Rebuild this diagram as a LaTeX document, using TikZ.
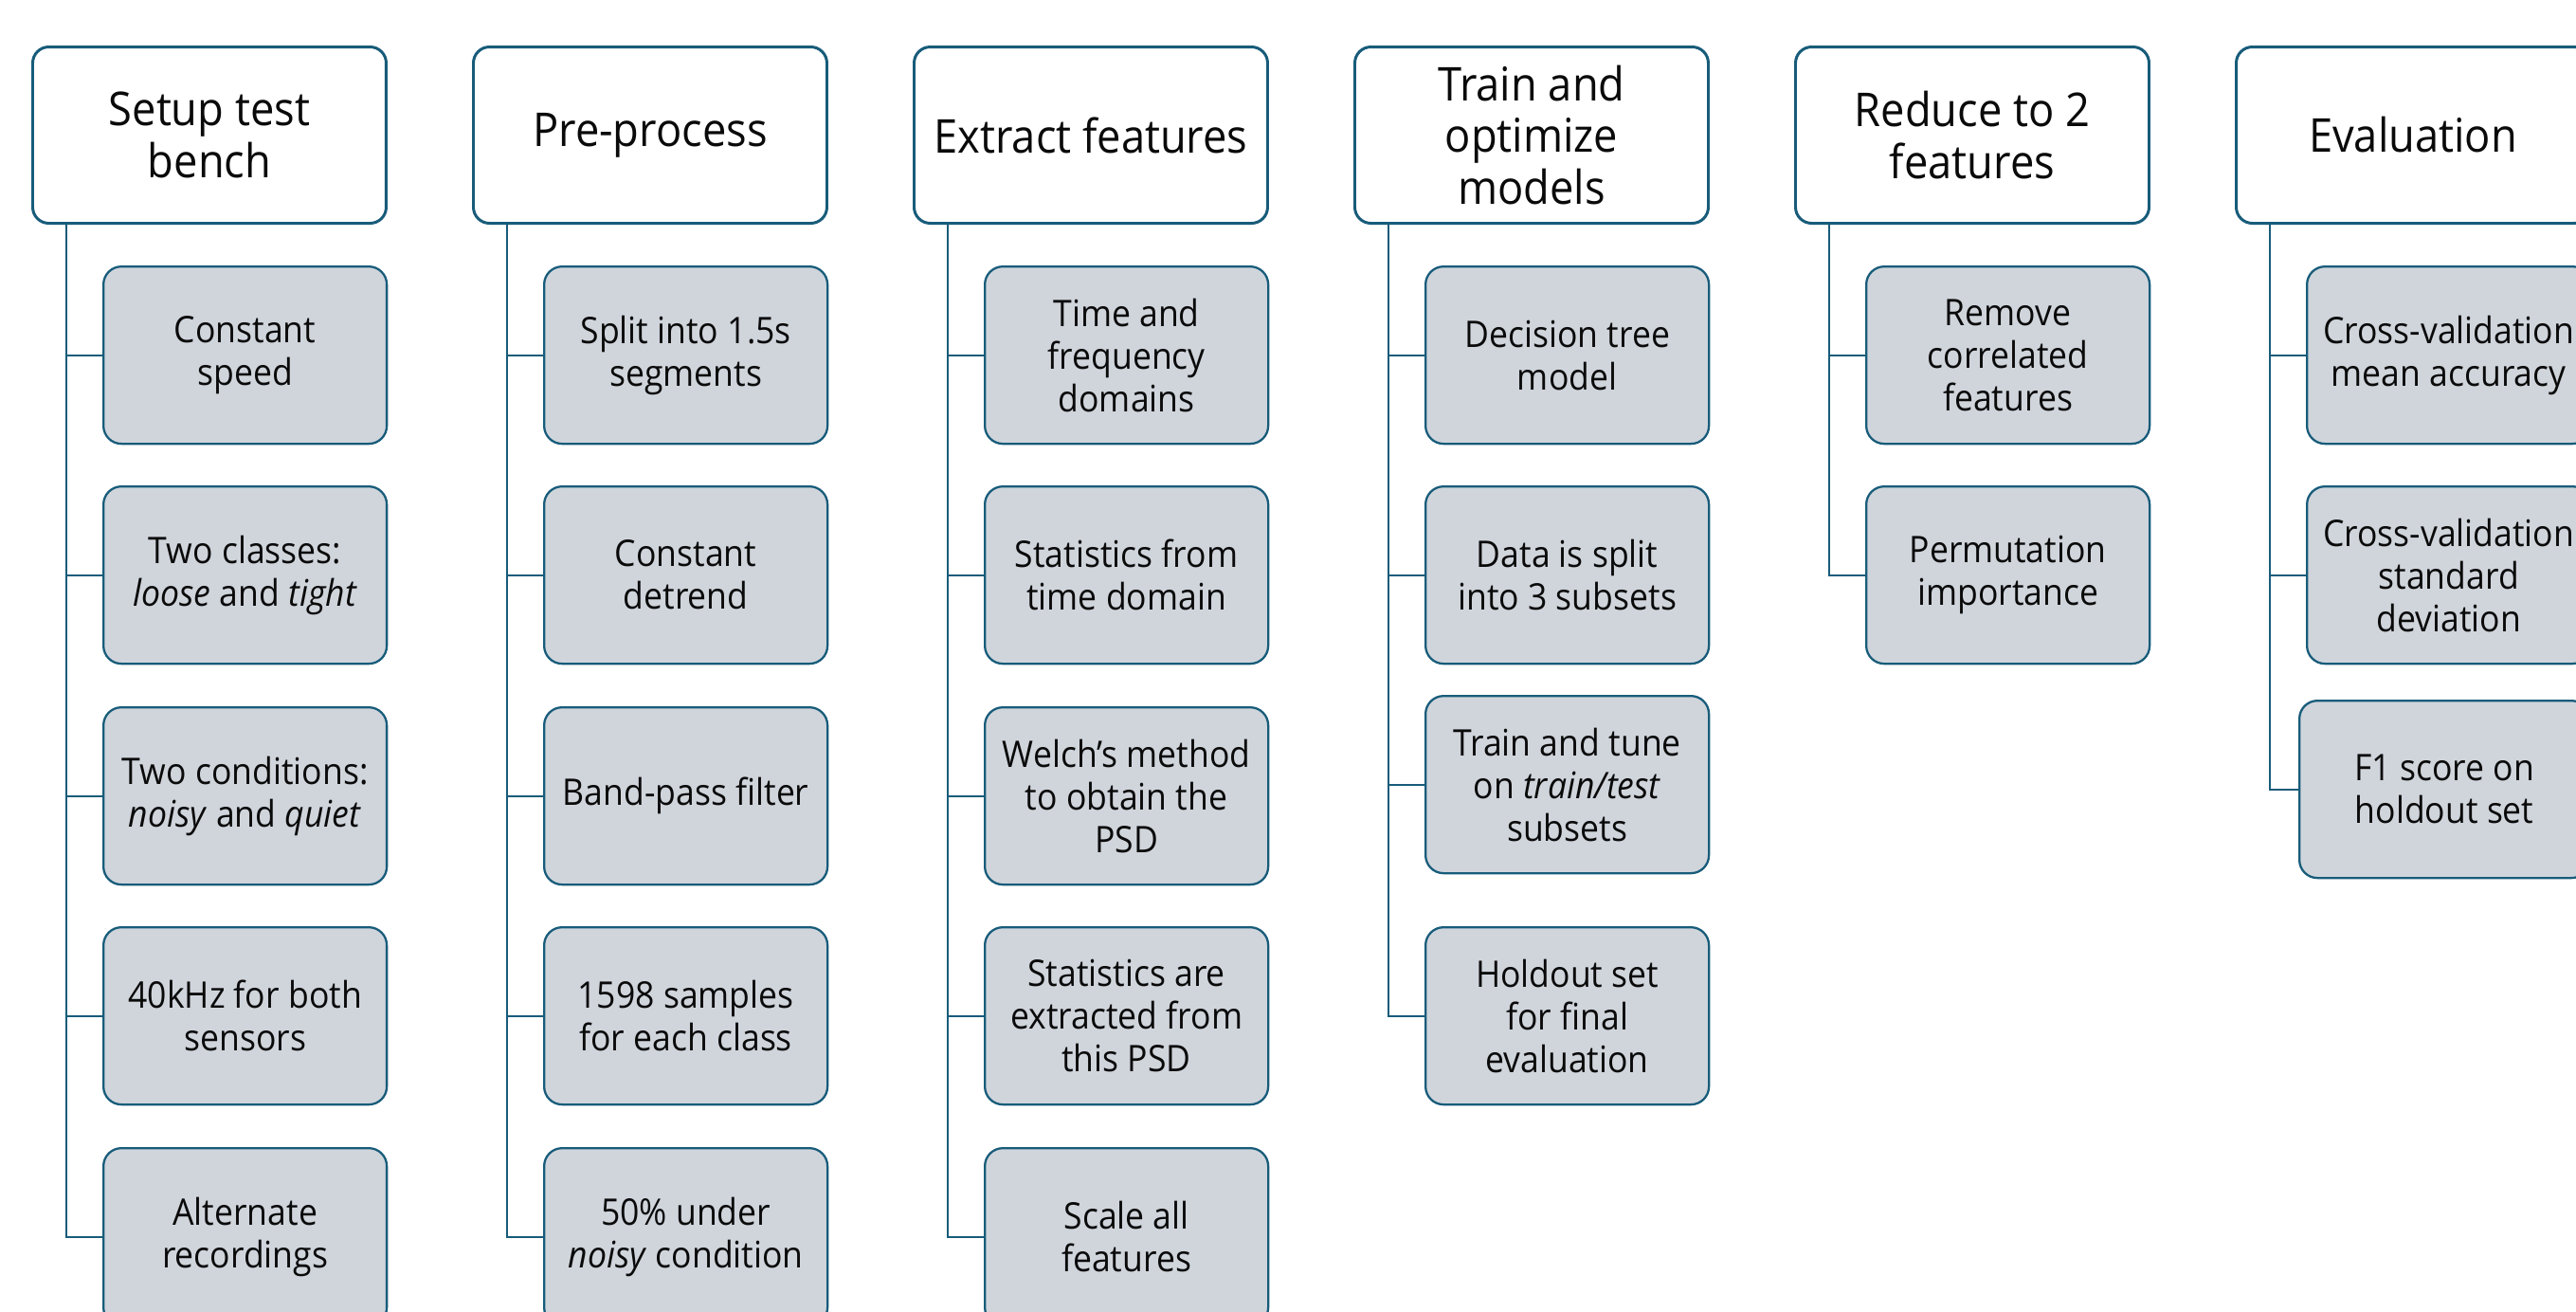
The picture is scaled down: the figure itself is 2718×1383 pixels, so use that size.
\documentclass[tikz,border=0pt]{standalone}
\usepackage{fontspec}
\setmainfont{Open Sans}[FakeStretch=0.92]
\usetikzlibrary{calc}
\definecolor{bordc}{RGB}{24,92,122}
\definecolor{boxfill}{RGB}{208,213,220}
\definecolor{txt}{RGB}{10,10,10}
\begin{document}
\begin{tikzpicture}[x=0.1mm,y=-0.1mm,
  hdr/.style={draw=bordc, line width=0.85pt, fill=white, rounded corners=1.7mm,
    minimum width=37.3mm, minimum height=18.6mm, anchor=north west, align=center,
    font=\fontsize{14}{15.6}\selectfont, inner sep=0pt, text=txt},
  sub/.style={draw=bordc, line width=0.65pt, fill=boxfill, rounded corners=1.9mm,
    minimum width=29.9mm, minimum height=18.7mm, anchor=north west, align=center,
    font=\fontsize{11}{12.8}\selectfont, inner sep=0pt, text=txt},
  link/.style={draw=bordc, line width=0.65pt}]
\useasboundingbox (0,0) rectangle (2718,1383);
\clip (0,0) rectangle (2718,1383);

% headers
\node[hdr] (h1) at (33,48)   {Setup test\\bench};
\node[hdr] (h2) at (498,48)  {Pre-process};
\node[hdr] (h3) at (963,48)  {Extract features};
\node[hdr] (h4) at (1428,48) {Train and\\optimize\\models};
\node[hdr] (h5) at (1893,48) {Reduce to 2\\features};
\node[hdr] (h6) at (2358,48) {Evaluation};

% column 1
\node[sub] (c11) at (108,280)  {Constant\\speed};
\node[sub] (c12) at (108,512)  {Two classes:\\\textit{loose} and \textit{tight}};
\node[sub] (c13) at (108,745)  {Two conditions:\\\textit{noisy} and \textit{quiet}};
\node[sub] (c14) at (108,977)  {40kHz for both\\sensors};
\node[sub] (c15) at (108,1210) {Alternate\\recordings};

% column 2
\node[sub] (c21) at (573,280)  {Split into 1.5s\\segments};
\node[sub] (c22) at (573,512)  {Constant\\detrend};
\node[sub] (c23) at (573,745)  {Band-pass filter};
\node[sub] (c24) at (573,977)  {1598 samples\\for each class};
\node[sub] (c25) at (573,1210) {50\% under\\\textit{noisy} condition};

% column 3
\node[sub] (c31) at (1038,280)  {Time and\\frequency\\domains};
\node[sub] (c32) at (1038,512)  {Statistics from\\time domain};
\node[sub] (c33) at (1038,745)  {Welch’s method\\to obtain the\\PSD};
\node[sub] (c34) at (1038,977)  {Statistics are\\extracted from\\this PSD};
\node[sub] (c35) at (1038,1210) {Scale all\\features};

% column 4
\node[sub] (c41) at (1503,280) {Decision tree\\model};
\node[sub] (c42) at (1503,512) {Data is split\\into 3 subsets};
\node[sub] (c43) at (1503,733) {Train and tune\\on \textit{train/test}\\subsets};
\node[sub] (c44) at (1503,977) {Holdout set\\for final\\evaluation};

% column 5
\node[sub] (c51) at (1968,280) {Remove\\correlated\\features};
\node[sub] (c52) at (1968,512) {Permutation\\importance};

% column 6
\node[sub] (c61) at (2433,280) {Cross-validation\\mean accuracy};
\node[sub] (c62) at (2433,512) {Cross-validation\\standard\\deviation};
\node[sub, minimum width=30.6mm] (c63) at (2425,738) {F1 score on\\holdout set};

% trunks
\foreach \c/\last in {1/5,2/5,3/5,4/4,5/2,6/3}{
  \coordinate (t\c) at ($(h\c.south west)+(37,0)$);
  \draw[link] (t\c) |- (c\c\last.west);
}
% branches
\foreach \c/\n in {1/4,2/4,3/4,4/3,5/1,6/2}{
  \foreach \r in {1,...,\n}{
    \draw[link] (t\c |- c\c\r.west) -- (c\c\r.west);
  }
}
\end{tikzpicture}
\end{document}
